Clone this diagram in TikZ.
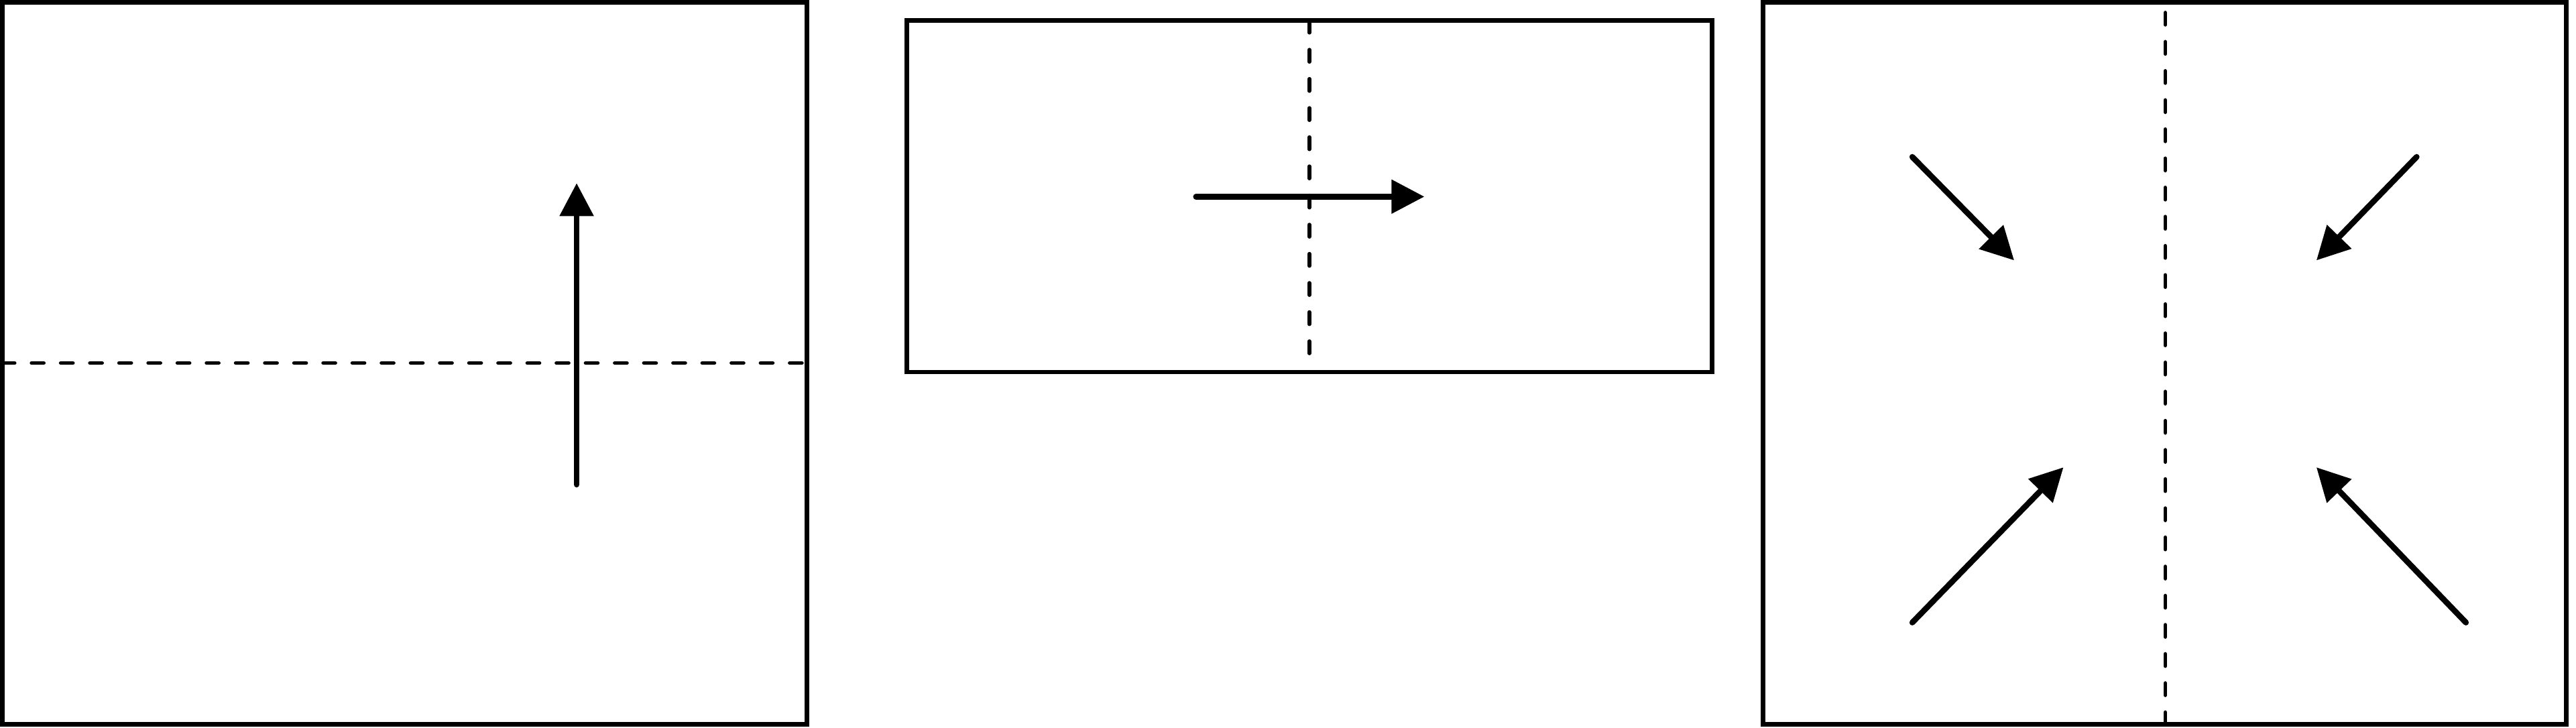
\documentclass[tikz,border=0pt]{standalone}
\usepackage{tikz}
\usepackage{xcolor}
\usetikzlibrary{arrows.meta}
\definecolor{flink}{RGB}{0,0,0}
\tikzset{
  flbox/.style={draw=flink, line width=.8pt},
  fldash/.style={draw=flink, line width=.65pt, line cap=round, dash pattern=on 2.1pt off 2.95pt},
  flarr/.style={-{Triangle[length=5.7pt, width=5.7pt]}, line width=1pt, line cap=round, draw=flink}
}

\begin{document}
\begin{tikzpicture}[x=.1mm, y=-.1mm]
  \useasboundingbox (0,0) rectangle (1568,443);
  \draw[flbox] (1.5,1.5) rectangle (491,441);
  \coordinate (cutw) at (1.5,221);
  \coordinate (cute) at (491,221);
  \draw[fldash] (cutw) -- (cute);
  \coordinate (upfrom) at (351,295);
  \coordinate (upto) at (351,111.5);
  \draw[flarr] (upfrom) -- (upto);
  \draw[flbox] (552,12.5) rectangle (1042,226.5);
  \coordinate (cutn) at (797,12.5);
  \coordinate (cuts) at (797,216);
  \draw[fldash] (cutn) -- (cuts);
  \coordinate (rightfrom) at (728,119.7);
  \coordinate (rightto) at (867,119.7);
  \draw[flarr] (rightfrom) -- (rightto);
  \draw[flbox] (1073,1.5) rectangle (1562,441);
  \coordinate (axisbot) at (1318,441);
  \coordinate (axistop) at (1318,1.5);
  \draw[fldash] (axisbot) -- (axistop);
  \coordinate (nwfrom) at (1164,95.5);
  \coordinate (nwto) at (1226,158.5);
  \coordinate (nefrom) at (1471,95.5);
  \coordinate (neto) at (1410,158.5);
  \coordinate (swfrom) at (1164,379);
  \coordinate (swto) at (1256,284.5);
  \coordinate (sefrom) at (1501,379);
  \coordinate (seto) at (1410,284.5);
  \draw[flarr] (nwfrom) -- (nwto);
  \draw[flarr] (nefrom) -- (neto);
  \draw[flarr] (swfrom) -- (swto);
  \draw[flarr] (sefrom) -- (seto);
\end{tikzpicture}
\end{document}
